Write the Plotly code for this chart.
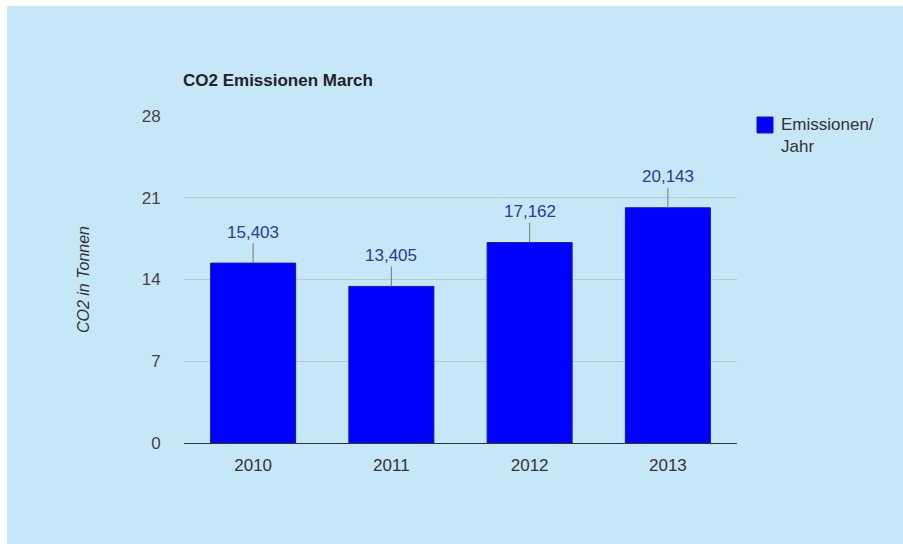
import plotly.graph_objects as go

# Annual CO2 emissions (tonnes), German number format in labels
years = ["2010", "2011", "2012", "2013"]
emissions = [15.403, 13.405, 17.162, 20.143]
value_labels = ["15,403", "13,405", "17,162", "20,143"]
y_ticks = [0, 7, 14, 21, 28]
series_name = "Emissionen/<br>Jahr"

BG = "#c6e7f7"
BAR = "#0000ff"
FONT = "Arial, Liberation Sans, sans-serif"
W, H = 903, 544
ML, MR, MT, MB = 184, 166, 116, 101
PW, PH = W - ML - MR, H - MT - MB


def px_x(x):
    return (x - ML) / PW


def px_y(y):
    return 1 - (y - MT) / PH


fig = go.Figure()
fig.add_trace(go.Bar(
    x=years, y=emissions,
    name=series_name,
    marker=dict(color=BAR, line=dict(color="#1a1aa0", width=1)),
    width=0.615,
    showlegend=False,
))

# value labels with a short leader line above each bar (x = category index)
for i, (v, lab) in enumerate(zip(emissions, value_labels)):
    fig.add_annotation(
        x=i, y=v, text=lab, showarrow=True, arrowhead=0,
        arrowcolor="#777777", arrowwidth=1, ax=0, ay=-31,
        font=dict(family=FONT, size=17, color="#2a3b9a"),
    )

# legend: swatch plus two-line label
fig.add_shape(type="rect", xref="paper", yref="paper",
              x0=px_x(757), x1=px_x(773), y0=px_y(133), y1=px_y(117),
              fillcolor=BAR, line=dict(color="#1a1aa0", width=1))
fig.add_annotation(xref="paper", yref="paper", x=px_x(779), y=px_y(113),
                   xanchor="left", yanchor="top", align="left", showarrow=False,
                   text=series_name,
                   font=dict(family=FONT, size=17, color="#333333"))

# white frame strips along the top and left edge of the page
fig.add_shape(type="rect", xref="paper", yref="paper",
              x0=px_x(0), x1=px_x(W), y0=px_y(6), y1=px_y(0),
              fillcolor="white", line=dict(width=0), layer="below")
fig.add_shape(type="rect", xref="paper", yref="paper",
              x0=px_x(0), x1=px_x(7), y0=px_y(H), y1=px_y(0),
              fillcolor="white", line=dict(width=0), layer="below")

fig.update_layout(
    width=W, height=H,
    margin=dict(l=ML, r=MR, t=MT, b=MB),
    paper_bgcolor=BG, plot_bgcolor=BG,
    font=dict(family=FONT, size=17, color="#444444"),
    title=dict(text="<b>CO2 Emissionen March</b>", x=183 / W, xanchor="left",
               y=1 - 80 / H, yanchor="middle",
               font=dict(size=17, color="#222222")),
    showlegend=False,
    xaxis=dict(type="category", range=[-0.5, 3.5], showgrid=False, showline=True,
               linecolor="#333333", linewidth=1,
               ticks="outside", ticklen=7, tickcolor="rgba(0,0,0,0)",
               tickfont=dict(size=17, color="#333333")),
    yaxis=dict(range=[0, 28], tickvals=y_ticks, showgrid=True, gridcolor="#b8c8cf",
               gridwidth=1, zeroline=False, showline=False,
               ticks="outside", ticklen=19, tickcolor="rgba(0,0,0,0)",
               tickfont=dict(size=17, color="#444444"),
               title=dict(text="<i>CO2 in Tonnen</i>", standoff=48,
                          font=dict(size=16, color="#333333"))),
)

fig.write_html("out.html")
